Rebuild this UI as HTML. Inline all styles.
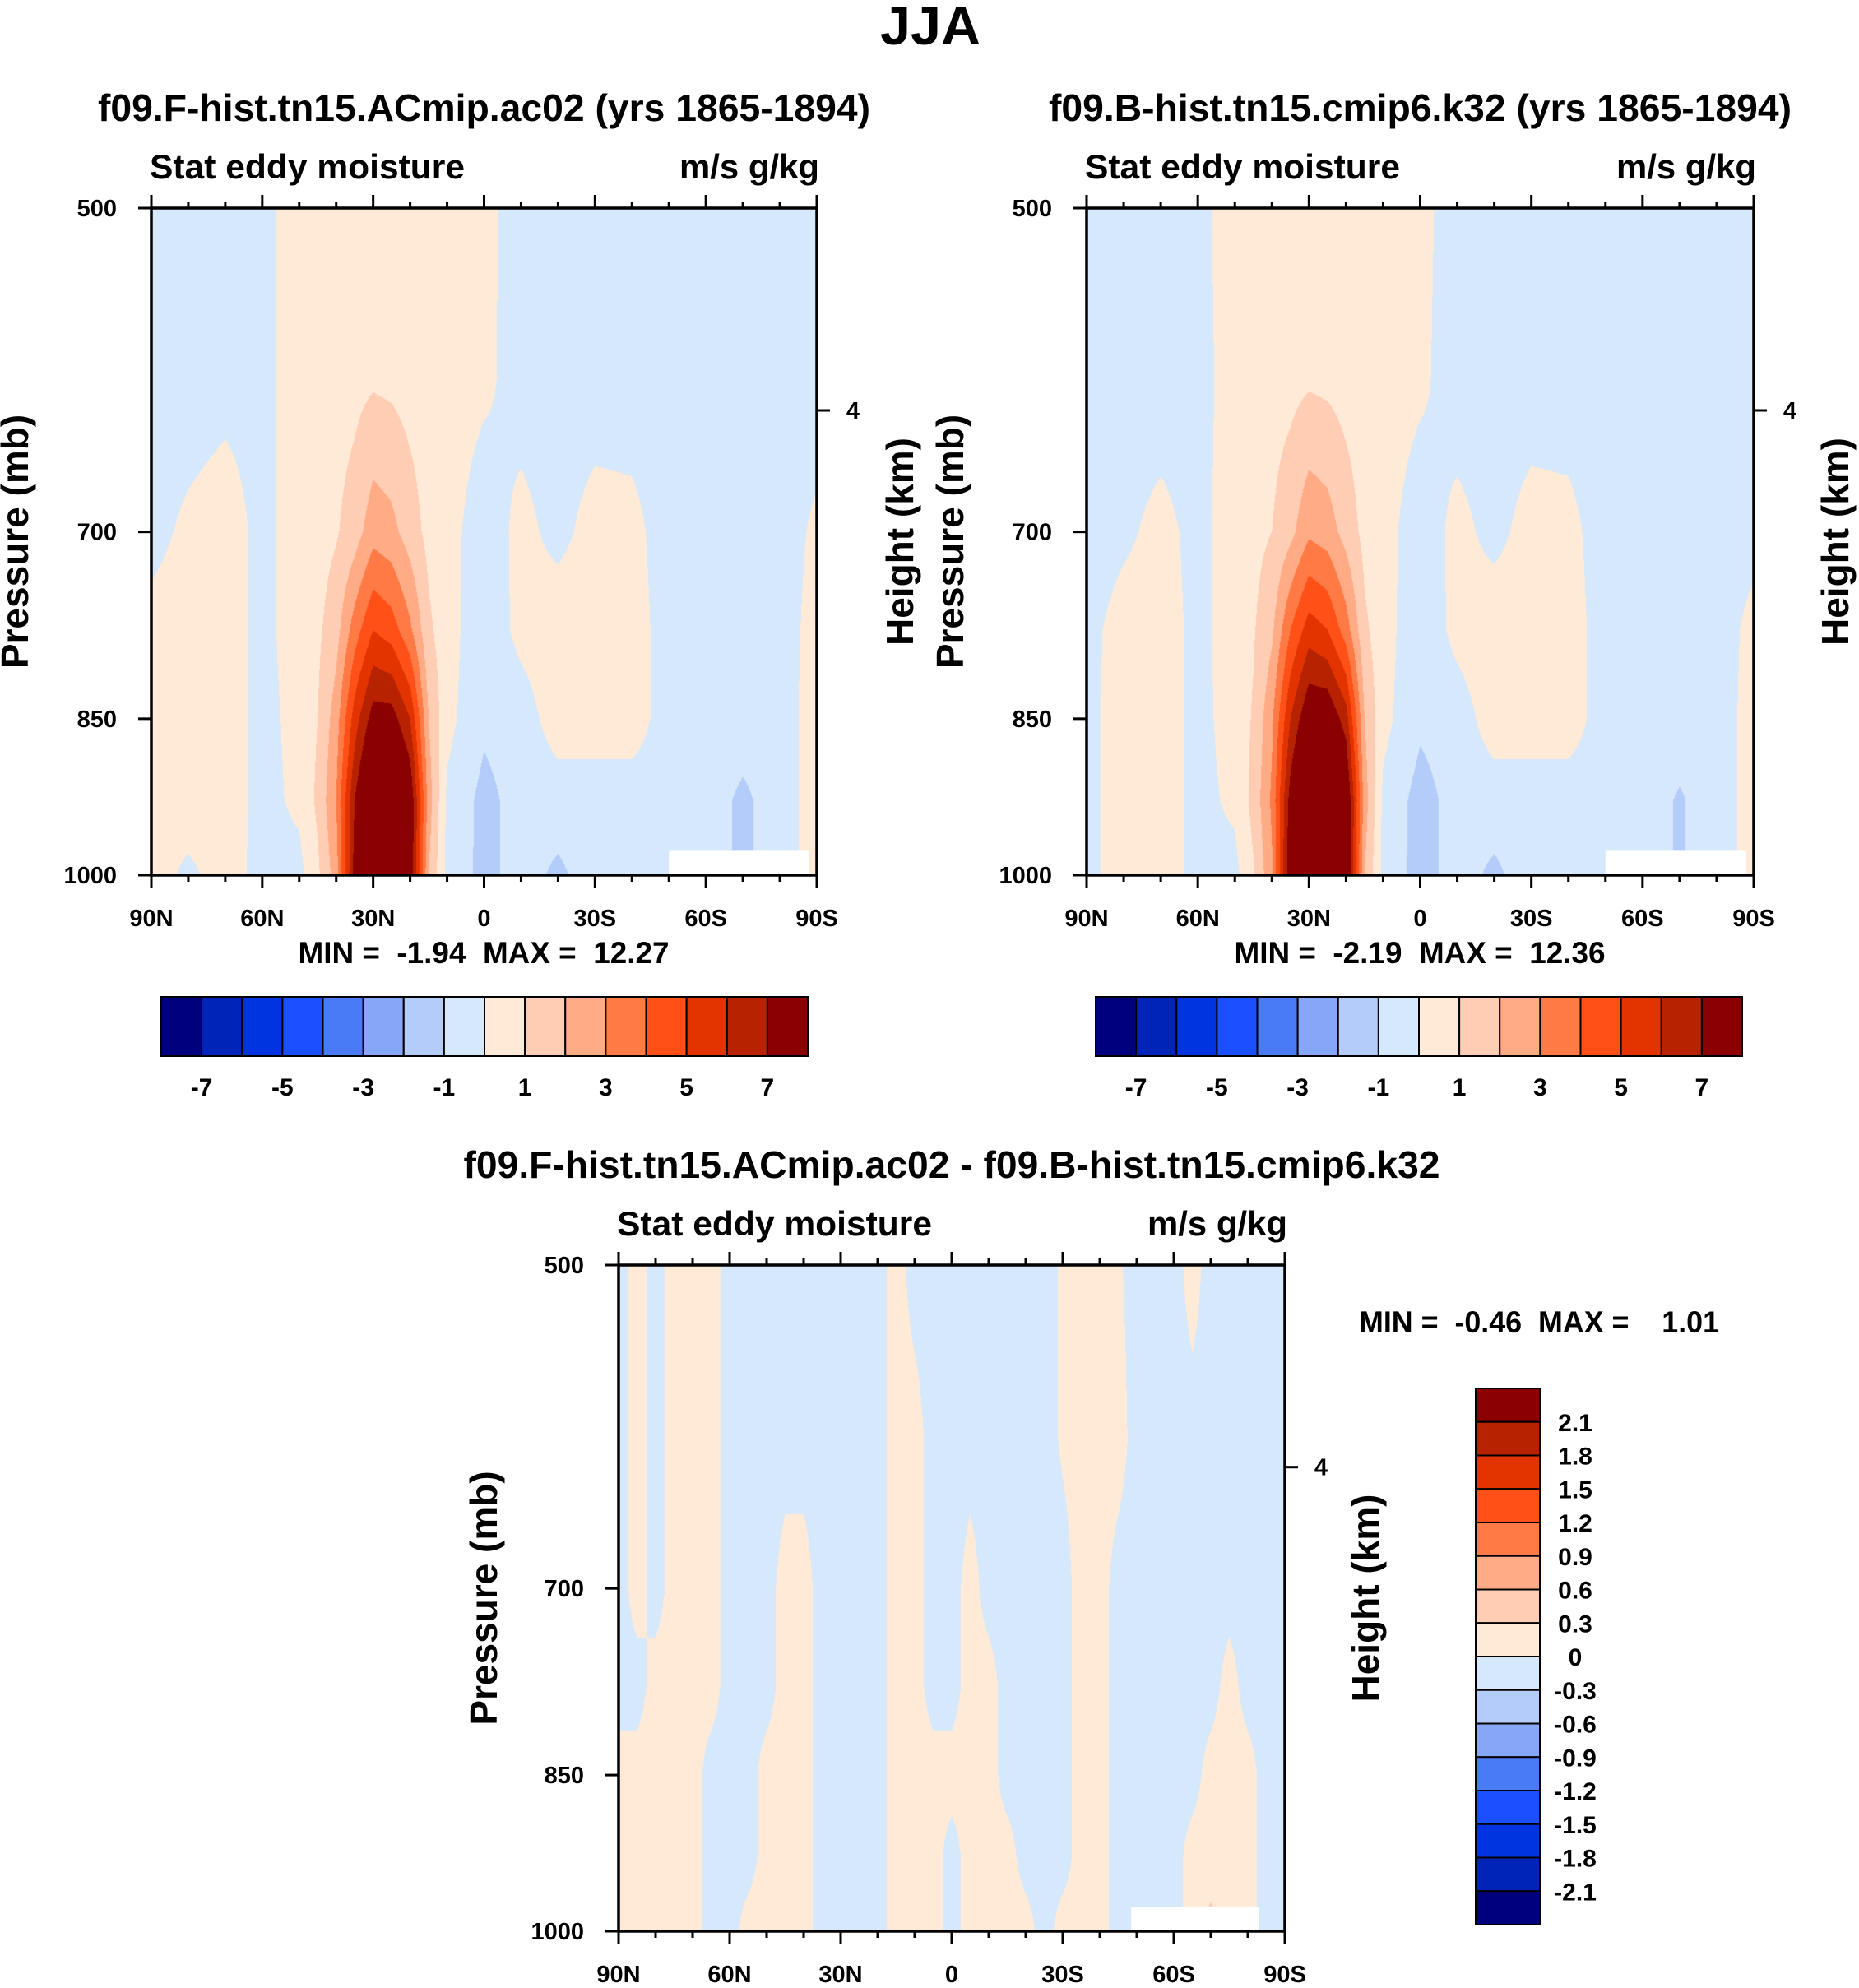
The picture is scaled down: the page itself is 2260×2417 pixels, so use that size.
<!DOCTYPE html>
<html><head><meta charset="utf-8"><style>
html,body{margin:0;padding:0;background:#fff;}
#wrap{position:relative;width:2260px;height:2417px;overflow:hidden;}
canvas{position:absolute;}
svg{position:absolute;left:0;top:0;}
text{font-family:"Liberation Sans",Arial,sans-serif;font-weight:bold;fill:#000;white-space:pre;}
</style></head><body>
<div id="wrap">
<canvas id="c1"></canvas>
<canvas id="c2"></canvas>
<canvas id="c3"></canvas>
<svg id="ov" width="2260" height="2417"></svg>
</div>
<script>
// ---------- data ----------
const levs = [500,600,700,775,850,925,1000];
const lats12 = [90,80,70,60,50,45,40,35,30,25,20,15,10,0,-10,-20,-30,-40,-50,-60,-70,-80,-90];
const vals1 = [
 [-0.5,-0.5,-0.5,-0.3,0.5,0.5,0.5,0.5,0.5,0.5,0.5,0.5,0.5,0.3,-0.5,-0.5,-0.5,-0.5,-0.5,-0.5,-0.5,-0.5,-0.5],
 [-0.5,-0.5,-0.3,-0.3,0.5,0.5,0.6,0.7,0.9,0.8,0.6,0.5,0.5,0.2,-0.4,-0.5,-0.5,-0.5,-0.5,-0.5,-0.5,-0.5,-0.5],
 [-0.3,0.2,0.5,-0.3,0.5,0.6,0.9,1.5,2.6,2.3,1.5,0.7,0.4,-0.6,0.3,-0.3,0.4,0.3,-0.5,-0.5,-0.5,-0.5,0.2],
 [0.3,0.5,0.5,-0.3,0.5,0.8,1.6,3.5,5.0,4.5,3.2,1.2,0.4,-0.7,0.3,0.6,0.6,0.5,-0.5,-0.5,-0.5,-0.5,0.4],
 [0.3,0.4,0.5,-0.3,0.3,1.0,2.5,5.5,7.5,7.5,6,2,0.3,-0.8,-0.5,0.5,0.5,0.5,-0.5,-0.5,-0.5,-0.5,0.5],
 [0.4,0.5,0.5,-0.3,0.2,1.2,3.0,7,9.5,9.5,8,2.5,-0.2,-1.3,-0.6,-0.5,-0.5,-0.5,-0.5,-0.5,-1.2,-0.5,0.5],
 [0.4,-0.2,0.4,-0.3,-0.3,0.8,2.5,7.5,10,10,8,2,-0.3,-1.3,-0.6,-1.2,-0.5,-0.5,-0.5,-0.5,-1.2,-0.5,0.5]
];
const vals2 = [
 [-0.5,-0.5,-0.5,-0.3,0.5,0.5,0.5,0.5,0.5,0.5,0.5,0.5,0.5,0.3,-0.5,-0.5,-0.5,-0.5,-0.5,-0.5,-0.5,-0.5,-0.5],
 [-0.5,-0.5,-0.5,-0.4,0.5,0.5,0.6,0.7,0.9,0.8,0.6,0.5,0.5,0.2,-0.5,-0.5,-0.5,-0.5,-0.5,-0.5,-0.5,-0.5,-0.5],
 [-0.5,-0.2,0.3,-0.3,0.5,0.7,1.0,1.7,2.8,2.5,1.6,0.7,0.4,-0.6,0.3,-0.3,0.4,0.3,-0.5,-0.5,-0.5,-0.5,-0.3],
 [-0.3,0.4,0.5,-0.3,0.5,0.9,1.8,4,5.5,5,3.5,1.2,0.4,-0.7,0.3,0.6,0.6,0.5,-0.5,-0.5,-0.5,-0.5,0.3],
 [-0.3,0.5,0.5,-0.3,0.4,1.1,2.8,6,8,8,6.5,2,0.3,-0.8,-0.5,0.5,0.5,0.5,-0.5,-0.5,-0.5,-0.5,0.4],
 [-0.3,0.5,0.5,-0.3,0.2,1.3,3.2,7.5,10,10,8.5,2.5,-0.2,-1.4,-0.6,-0.5,-0.5,-0.5,-0.5,-0.5,-1.1,-0.5,0.4],
 [-0.3,0.5,0.5,-0.3,-0.3,0.9,2.8,8,10,10,8.5,2,-0.3,-1.4,-0.6,-1.2,-0.5,-0.5,-0.5,-0.5,-1.1,-0.5,0.4]
];
const lats3 = [90,85,80,75,70,65,60,55,50,45,40,35,30,25,20,15,10,5,0,-5,-10,-15,-20,-25,-30,-35,-40,-45,-50,-55,-60,-65,-70,-75,-80,-85,-90];
const P = 0.15, N = -0.15;
const vals3 = [
 [N,P,N,P,P,P,N,N,N,N,N,N,N,N,N,P,N,N,N,N,N,N,N,N,0.05,P,P,0.05,N,N,N,P,N,N,N,N,N],
 [N,P,N,P,P,P,N,N,N,N,N,N,N,N,N,P,P,N,N,N,N,N,N,N,0.05,P,P,P,N,N,N,N,N,N,N,N,N],
 [N,P,N,P,P,P,N,N,N,P,P,N,N,N,N,P,P,N,N,P,N,N,N,N,N,P,P,N,N,N,N,N,N,N,N,N,N],
 [N,N,P,P,P,P,N,N,N,P,P,N,N,N,N,P,P,N,N,P,P,N,N,N,N,P,P,N,N,N,N,N,N,P,N,N,N],
 [P,P,P,P,P,N,N,N,P,P,P,N,N,N,N,P,P,P,P,P,P,N,N,N,N,P,P,N,N,N,N,N,P,P,P,N,N],
 [P,P,P,P,P,N,N,N,P,P,P,N,N,N,N,P,P,P,N,P,P,P,N,N,N,P,P,N,N,N,N,P,P,P,P,N,N],
 [P,P,P,P,P,N,N,P,P,P,P,N,N,N,N,P,P,P,N,P,P,P,P,N,P,P,P,N,N,N,N,P,0.4,P,P,N,N]
];
const cbLevels1 = [-7,-6,-5,-4,-3,-2,-1,0,1,2,3,4,5,6,7];
const cbLabels1 = ["-7","-5","-3","-1","1","3","5","7"];
const cbLevels3 = [-2.1,-1.8,-1.5,-1.2,-0.9,-0.6,-0.3,0,0.3,0.6,0.9,1.2,1.5,1.8,2.1];
const cbLabels3 = ["-2.1","-1.8","-1.5","-1.2","-0.9","-0.6","-0.3","0","0.3","0.6","0.9","1.2","1.5","1.8","2.1"];
const xTickLabels = ["90N","60N","30N","0","30S","60S","90S"];
const pTicks = [500,700,850,1000];
const colors = ["#00007F","#0024B8","#0034E0","#1A50FF","#4A7BF6","#86A6F8","#B4CCFA","#D6E8FC",
 "#FFEAD7","#FFCDB3","#FFAB85","#FF7A45","#FF5018","#E33400","#B72200","#8B0000"];

// ---------- helpers ----------
const svg = document.getElementById('ov');
const NS = 'http://www.w3.org/2000/svg';
function mk(tag, attrs, parent){ const e=document.createElementNS(NS,tag); for(const k in attrs) e.setAttribute(k,attrs[k]); (parent||svg).appendChild(e); return e; }
function txt(s, x, y, size, anchor, name, rot, tl){
  const t = mk('text',{x:x,y:y,'font-size':size,'text-anchor':anchor||'middle'});
  if(rot) t.setAttribute('transform','rotate(-90 '+x+' '+y+')');
  if(tl){ t.setAttribute('textLength', tl); t.setAttribute('lengthAdjust','spacingAndGlyphs'); }
  
  
  t.textContent = s; return t;
}
function hex(c){ return [parseInt(c.substr(1,2),16),parseInt(c.substr(3,2),16),parseInt(c.substr(5,2),16)]; }
const rgb = colors.map(hex);

function makeAxes(R){
  const L0 = Math.log(500), L1 = Math.log(1000);
  return {
    x: lat => R.x + (90-lat)/180*R.w,
    y: p => R.y + (Math.log(p)-L0)/(L1-L0)*R.h
  };
}
function interp1(arr, v){
  const asc = arr[arr.length-1] > arr[0];
  for(let i=0;i<arr.length-1;i++){
    const a=arr[i], b=arr[i+1];
    if((asc && v>=a && v<=b) || (!asc && v<=a && v>=b)) return [i,(v-a)/(b-a)];
  }
  return [arr.length-2,1];
}
function drawField(cid, R, lats, vals, thr, missing){
  const c = document.getElementById(cid);
  c.width = R.w; c.height = R.h; c.style.left = R.x+'px'; c.style.top = R.y+'px';
  const ctx = c.getContext('2d'); const img = ctx.createImageData(R.w, R.h);
  const L0 = Math.log(500), L1 = Math.log(1000);
  const lnl = levs.map(Math.log);
  const colI = [];
  for(let px=0;px<R.w;px++){ colI.push(interp1(lats, 90-(px+0.5)/R.w*180)); }
  for(let py=0;py<R.h;py++){
    const lp = L0 + (py+0.5)/R.h*(L1-L0);
    const [j,u] = interp1(lnl, lp);
    for(let px=0;px<R.w;px++){
      const [i,t] = colI[px];
      const v = (1-u)*((1-t)*vals[j][i]+t*vals[j][i+1]) + u*((1-t)*vals[j+1][i]+t*vals[j+1][i+1]);
      let k=0; while(k<thr.length && v>thr[k]) k++;
      const cc = rgb[k]; const o=(py*R.w+px)*4;
      img.data[o]=cc[0]; img.data[o+1]=cc[1]; img.data[o+2]=cc[2]; img.data[o+3]=255;
    }
  }
  ctx.putImageData(img,0,0);
  const A = makeAxes(R);
  const m = mk('rect',{x:A.x(missing[0]),y:A.y(missing[2]),width:A.x(missing[1])-A.x(missing[0]),height:R.y+R.h-A.y(missing[2]),fill:'#fff'});
  
  
}
function drawFrame(R, pfx, title, titleLen, pressX, heightX){
  const A = makeAxes(R);
  const g = mk('g',{});
  
  
  mk('rect',{x:R.x,y:R.y,width:R.w,height:R.h,fill:'none',stroke:'#000','stroke-width':3.5},g);
  for(let lat=90; lat>=-90; lat-=10){
    const x=A.x(lat), len = (lat%30===0)?16:8;
    mk('line',{x1:x,y1:R.y,x2:x,y2:R.y-len,stroke:'#000','stroke-width':3},g);
    mk('line',{x1:x,y1:R.y+R.h,x2:x,y2:R.y+R.h+len,stroke:'#000','stroke-width':3},g);
  }
  xTickLabels.forEach((s,i)=>{ txt(s, A.x(90-i*30), R.y+R.h+62, 29, 'middle', pfx+'-x-tick-label'); });
  pTicks.forEach(p=>{
    const y=A.y(p);
    mk('line',{x1:R.x,y1:y,x2:R.x-16,y2:y,stroke:'#000','stroke-width':3},g);
    txt(String(p), R.x-42, y+10, 29, 'end', pfx+'-y-tick-label');
  });
  const y4 = A.y(617);
  mk('line',{x1:R.x+R.w,y1:y4,x2:R.x+R.w+16,y2:y4,stroke:'#000','stroke-width':3},g);
  txt('4', R.x+R.w+44, y4+10, 29, 'middle', pfx+'-height-tick-label');
  txt('Stat eddy moisture', R.x-2, R.y-36, 42, 'start', pfx+'-subtitle-left', false, 383);
  txt('m/s g/kg', R.x+R.w+3, R.y-36, 42, 'end', pfx+'-units', false, 170);
  txt(title, R.x+R.w/2, R.y-106, 46, 'middle', pfx+'-title', false, titleLen);
  txt('Pressure (mb)', pressX, R.y+R.h/2, 46, 'middle', pfx+'-y-axis-title', true);
  txt('Height (km)', heightX, R.y+R.h/2, 46, 'middle', pfx+'-right-axis-title', true);
}
function hColorbar(x, y, w, h, pfx){
  const bw = w/16;
  for(let i=0;i<16;i++){
    const r = mk('rect',{x:x+i*bw,y:y,width:bw,height:h,fill:colors[i],stroke:'#000','stroke-width':2});
    
    
  }
  cbLabels1.forEach((s,k)=>{
    const idx = cbLevels1.indexOf(parseFloat(s));
    txt(s, x+(idx+1)*bw, y+h+48, 30, 'middle', pfx+'-colorbar-label');
  });
}
function vColorbar(x, y, w, h, pfx){
  const bh = h/16;
  for(let i=0;i<16;i++){
    const r = mk('rect',{x:x,y:y+i*bh,width:w,height:bh,fill:colors[15-i],stroke:'#000','stroke-width':2});
    
    
  }
  cbLabels3.forEach((s,k)=>{
    const idx = cbLevels3.indexOf(parseFloat(s));
    const yy = y + (15-idx)*bh;
    txt(s, x+121, yy+11, 30, 'middle', pfx+'-colorbar-label');
  });
}

// ---------- build ----------
const R1={x:184,y:253,w:809,h:811}, R2={x:1321,y:253,w:811,h:811}, R3={x:752,y:1538,w:810,h:810};
drawField('c1',R1,lats12,vals1,cbLevels1,[-50,-88,975]);
drawField('c2',R2,lats12,vals2,cbLevels1,[-50,-88,975]);
drawField('c3',R3,lats3,vals3,cbLevels3,[-48.5,-83,975]);
txt('JJA', 1131, 54, 66, 'middle', 'figure-title', false, 122);
drawFrame(R1,'panel1','f09.F-hist.tn15.ACmip.ac02 (yrs 1865-1894)', 939, 34, 1110);
drawFrame(R2,'panel2','f09.B-hist.tn15.cmip6.k32 (yrs 1865-1894)', 903, 1171, 2247);
drawFrame(R3,'diff','f09.F-hist.tn15.ACmip.ac02 - f09.B-hist.tn15.cmip6.k32', 1187, 604, 1676);
txt('MIN =  -1.94  MAX =  12.27', 588, 1171, 37, 'middle', 'panel1-min-max', false, 451);
txt('MIN =  -2.19  MAX =  12.36', 1726, 1171, 37, 'middle', 'panel2-min-max', false, 451);
txt('MIN =  -0.46  MAX =    1.01', 1871, 1620, 37, 'middle', 'diff-min-max', false, 438);
hColorbar(196,1212,786,72,'panel1');
hColorbar(1332,1212,786,72,'panel2');
vColorbar(1794,1688,78,652,'diff');
</script>
</body></html>
